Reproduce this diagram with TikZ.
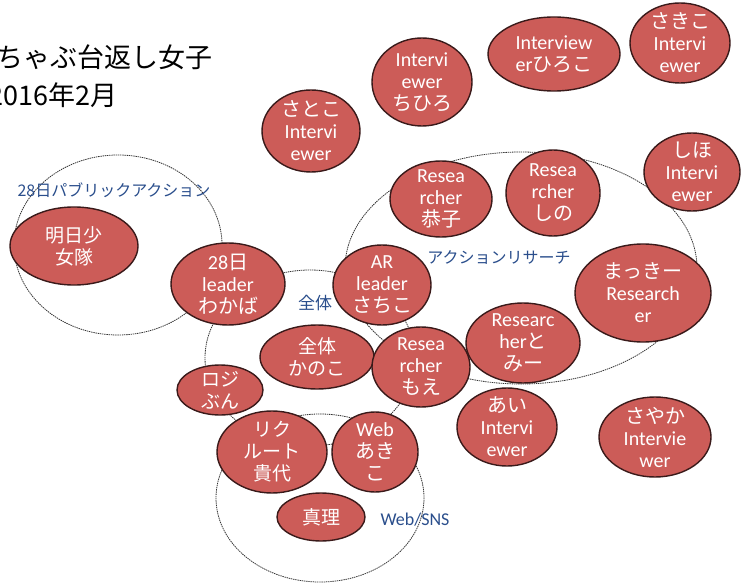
\documentclass[tikz,border=0pt]{standalone}
\usepackage{fontspec}
\setmainfont{Carlito}
\newfontfamily\jp{Noto Sans CJK JP}
\usetikzlibrary{shapes.geometric}
\definecolor{nfill}{RGB}{204,92,88}
\definecolor{bdr}{RGB}{58,26,26}
\definecolor{lblue}{RGB}{42,78,140}
\begin{document}
\begin{tikzpicture}[x=1pt,y=-1pt,
  blob/.style={ellipse, draw=bdr, line width=1.4pt, fill=nfill, inner sep=0pt},
  lbl/.style={text=white, align=center, inner sep=0pt, font=\fontsize{20}{22}\selectfont},
  jlbl/.style={lbl, font=\jp\fontsize{19}{22}\selectfont},
  grp/.style={draw=black!80, line width=0.8pt, dash pattern=on 1.4pt off 0.8pt},
  glabel/.style={text=lblue, inner sep=0pt},
  title/.style={anchor=east, inner sep=0pt, font=\jp\fontsize{27}{30}\selectfont}]
\useasboundingbox[fill=white] (0,0) rectangle (741,585);
% group outlines
\draw[grp] (118,245) ellipse [x radius=104, y radius=90];
\draw[grp] (521,268) ellipse [x radius=176, y radius=116];
\draw[grp] (310,358) ellipse [x radius=105, y radius=88];
\draw[grp] (320,498) ellipse [x radius=104, y radius=84];
% title
\node[title] (t1) at (213,57) {ちゃぶ台返し女子};
\node[title] (t2) at (118,95) {2016年2月};
% group labels
\node[glabel, font=\jp\fontsize{16}{18}\selectfont] (gpa) at (114,190) {28日パブリックアクション};
\node[glabel, font=\jp\fontsize{16}{18}\selectfont] (gar) at (499,257) {アクションリサーチ};
\node[glabel, font=\jp\fontsize{17}{19}\selectfont] (gall) at (315,303) {全体};
\node[glabel, font=\fontsize{18}{20}\selectfont] (gweb) at (415,520) {Web/SNS};
% people
\node[blob, minimum width=98pt, minimum height=82pt, label={[lbl]center:{\jp さとこ}\\Intervi\\ewer}] (satoko) at (311,131) {};
\node[blob, minimum width=100pt, minimum height=88pt, label={[lbl]center:Intervi\\ewer\\{\jp ちひろ}}] (chihiro) at (422,82) {};
\node[blob, minimum width=132pt, minimum height=74pt, label={[lbl]center:Interview\\er{\jp ひろこ}}] (hiroko) at (554,54) {};
\node[blob, minimum width=100pt, minimum height=80pt, label={[lbl]center:{\jp さきこ}\\Intervi\\ewer}] (sakiko) at (680,43) {};
\node[blob, minimum width=96pt, minimum height=78pt, label={[lbl]center:{\jp しほ}\\Intervi\\ewer}] (shiho) at (692,172) {};
\node[blob, minimum width=102pt, minimum height=76pt, label={[lbl]center:Resea\\rcher\\{\jp 恭子}}] (kyoko) at (441,199) {};
\node[blob, minimum width=94pt, minimum height=86pt, label={[lbl]center:Resea\\rcher\\{\jp しの}}] (shino) at (553,193) {};
\node[blob, minimum width=136pt, minimum height=98pt, label={[lbl]center:{\jp まっきー}\\Research\\er}] (makki) at (643,293) {};
\node[blob, minimum width=128pt, minimum height=78pt, label={[jlbl]center:明日少\\女隊}] (asu) at (74,246) {};
\node[blob, minimum width=114pt, minimum height=82pt, label={[lbl]center:28{\jp 日}\\leader\\{\jp わかば}}] (wakaba) at (228,284) {};
\node[blob, minimum width=98pt, minimum height=80pt, label={[lbl]center:AR\\leader\\{\jp さちこ}}] (sachiko) at (382,285) {};
\node[blob, minimum width=114pt, minimum height=64pt, label={[jlbl]center:全体\\かのこ}] (kanoko) at (317,357) {};
\node[blob, minimum width=114pt, minimum height=80pt, label={[lbl]center:Researc\\her{\jp と}\\{\jp みー}}] (tomy) at (523,343) {};
\node[blob, minimum width=98pt, minimum height=80pt, label={[lbl]center:Resea\\rcher\\{\jp もえ}}] (moe) at (421,367) {};
\node[blob, minimum width=86pt, minimum height=50pt, label={[jlbl]center:ロジ\\ぶん}] (roji) at (220,390) {};
\node[blob, minimum width=100pt, minimum height=78pt, label={[lbl]center:{\jp あい}\\Intervi\\ewer}] (ai) at (507,427) {};
\node[blob, minimum width=112pt, minimum height=80pt, label={[lbl]center:{\jp さやか}\\Intervie\\wer}] (sayaka) at (655,437) {};
\node[blob, minimum width=110pt, minimum height=82pt, label={[jlbl]center:リク\\ルート\\貴代}] (kiyo) at (272,452) {};
\node[blob, minimum width=86pt, minimum height=80pt, label={[lbl]center:Web\\{\jp あき}\\{\jp こ}}] (akiko) at (375,452) {};
\node[blob, minimum width=88pt, minimum height=48pt, label={[jlbl]center:真理}] (mari) at (321,517) {};
\end{tikzpicture}
\end{document}
